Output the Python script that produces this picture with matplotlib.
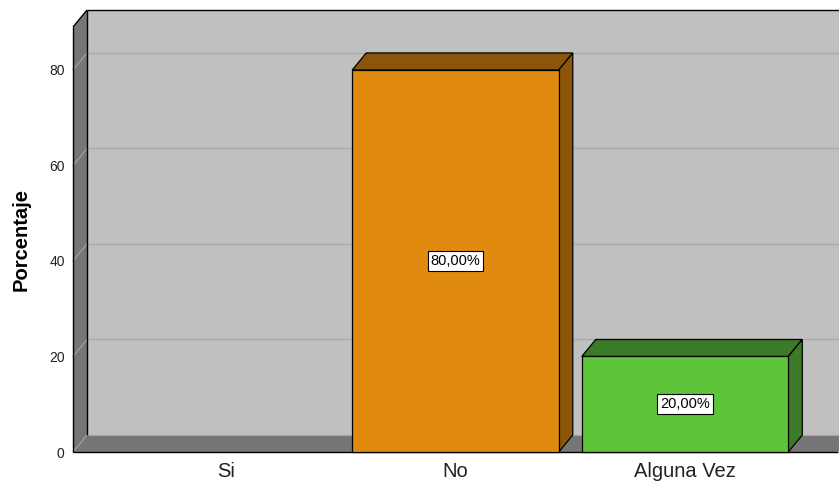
import matplotlib.pyplot as plt
from matplotlib.patches import Polygon, Rectangle

plt.rcParams['font.family'] = ['Liberation Sans', 'DejaVu Sans']

categorias = ["Si", "No", "Alguna Vez"]
porcentajes = [0.0, 80.0, 20.0]
etiquetas = ["", "80,00%", "20,00%"]
colores = [("#3b6fb6", "#24477a"), ("#e08a0f", "#8c560a"), ("#5ec43a", "#3b7a27")]
yticks = [0, 20, 40, 60, 80]

W, H = 839, 484
fig = plt.figure(figsize=(W / 100, H / 100), dpi=100)
ax = fig.add_axes([73 / W, 32 / H, 765 / W, 425 / H])

xmin, xmax = -2 / 3, 8 / 3
ymin, ymax = 0, 89
ax.set_xlim(xmin, xmax)
ax.set_ylim(ymin, ymax)

# profundidad del efecto 3D (en unidades de datos)
px_x = (xmax - xmin) / 765
px_y = (ymax - ymin) / 425
dx, dy = 14 * px_x, 17 * px_y

pared = "#c0c0c0"
suelo = "#767676"
rejilla = "#aaaaaa"


def poly(pts, fc, z, ec="none", lw=0.0):
    ax.add_patch(Polygon(pts, closed=True, fc=fc, ec=ec, lw=lw, zorder=z, clip_on=False))


# pared del fondo
poly([(xmin + dx, dy), (xmax + dx, dy), (xmax + dx, ymax + dy), (xmin + dx, ymax + dy)], pared, 1)
for t in yticks[1:]:
    ax.plot([xmin + dx, xmax + dx], [t + dy, t + dy], color=rejilla, lw=1, zorder=2, clip_on=False)

# pared lateral y suelo
poly([(xmin, 0), (xmin + dx, dy), (xmin + dx, ymax + dy), (xmin, ymax)], suelo, 3)
poly([(xmin, 0), (xmax, 0), (xmax + dx, dy), (xmin + dx, dy)], suelo, 3)
for t in yticks:
    ax.plot([xmin, xmin + dx], [t, t + dy], color="#a4a4a4", lw=0.8, zorder=4, clip_on=False)
ax.plot([xmin + dx, xmax + dx], [dy, dy], color="#a4a4a4", lw=0.8, zorder=4, clip_on=False)

# contornos
k = dict(color="black", lw=1.0, zorder=5, clip_on=False, solid_capstyle="butt")
ax.plot([xmin, xmin], [0, ymax], **k)
ax.plot([xmin, xmax], [0, 0], **k)
ax.plot([xmin, xmin + dx], [ymax, ymax + dy], **k)
ax.plot([xmin + dx, xmax + dx], [ymax + dy, ymax + dy], **k)
ax.plot([xmin + dx, xmin + dx], [dy, ymax + dy], **k)

# barras
ancho = 0.9
for i, (v, lab, (cf, cs)) in enumerate(zip(porcentajes, etiquetas, colores)):
    if v <= 0:
        continue
    x0, x1 = i - ancho / 2, i + ancho / 2
    poly([(x0, v), (x1, v), (x1 + dx, v + dy), (x0 + dx, v + dy)], cs, 6, ec="black", lw=0.9)
    poly([(x1, 0), (x1 + dx, dy), (x1 + dx, v + dy), (x1, v)], cs, 6, ec="black", lw=0.9)
    ax.add_patch(Rectangle((x0, 0), ancho, v, fc=cf, ec="black", lw=0.9, zorder=7, clip_on=False))
    ax.text(i, v / 2, lab, ha="center", va="center", fontsize=10.5, zorder=8,
            bbox=dict(boxstyle="square,pad=0.2", fc="white", ec="black", lw=0.8))

for s in ax.spines.values():
    s.set_visible(False)
ax.set_facecolor("none")
ax.set_yticks(yticks)
ax.set_yticklabels([str(t) for t in yticks], fontsize=10, color="#222222")
ax.set_xticks(range(len(categorias)))
ax.set_xticklabels(categorias, fontsize=14.5, color="#222222")
ax.tick_params(axis="y", length=0, pad=6)
ax.tick_params(axis="x", length=0, pad=7)
ax.set_ylabel("Porcentaje", fontsize=14.5, fontweight="bold")
ax.yaxis.set_label_coords(-0.056, 0.5)

fig.savefig("out.png", dpi=100)
